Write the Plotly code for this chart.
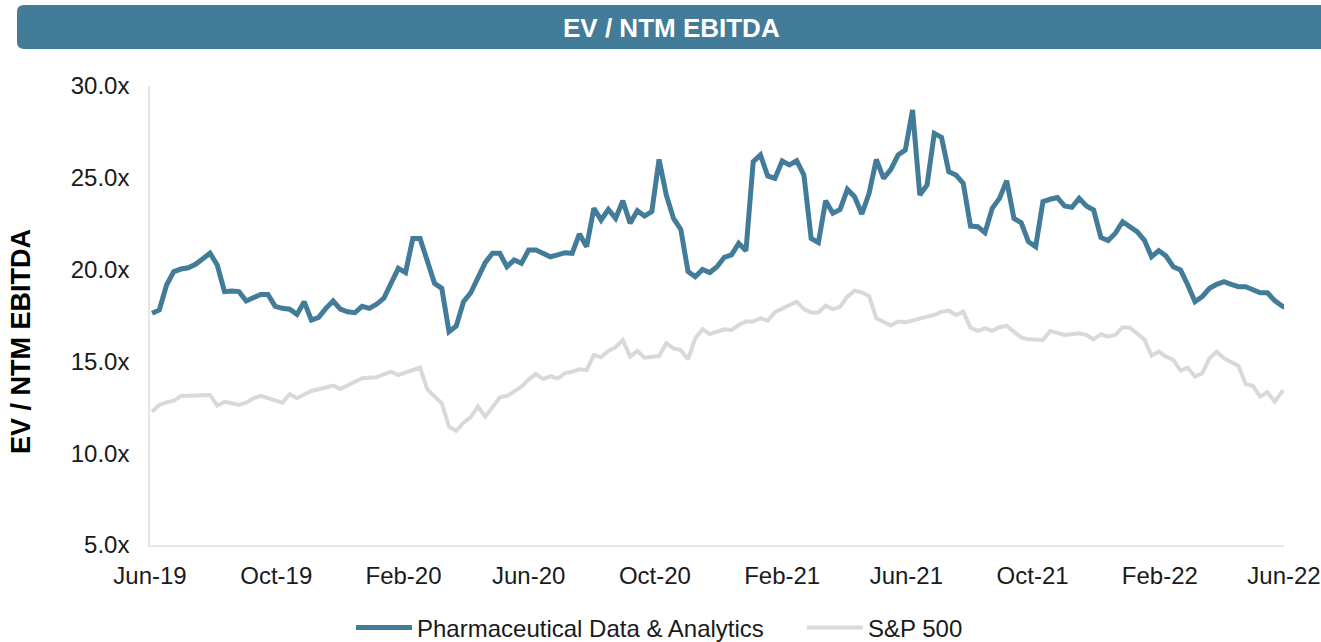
import pandas as pd
import plotly.graph_objects as go

# Weekly observations, Jun-2019 .. Jun-2022
dates = pd.date_range("2019-06-03", periods=158, freq="7D")

pharma = [
    17.62, 17.8, 19.16, 19.89, 20.03, 20.1, 20.29, 20.56, 20.89, 20.25,
    18.8, 18.83, 18.8, 18.29, 18.44, 18.65, 18.65, 18.0, 17.89, 17.84,
    17.56, 18.25, 17.25, 17.40, 17.89, 18.29, 17.85, 17.7, 17.65, 18.0,
    17.89, 18.11, 18.44, 19.25, 20.07, 19.84, 21.7, 21.7, 20.52, 19.25,
    18.98, 16.62, 16.93, 18.25, 18.74, 19.53, 20.38, 20.89, 20.89, 20.16,
    20.52, 20.34, 21.07, 21.07, 20.9, 20.7, 20.8, 20.92, 20.89, 21.94,
    21.25, 23.34, 22.7, 23.28, 22.79, 23.75, 22.52, 23.21, 22.92, 23.16,
    26.0, 24.06, 22.79, 22.19, 19.89, 19.61, 20.01, 19.84, 20.16, 20.67,
    20.8, 21.43, 21.03, 25.88, 26.24, 25.1, 24.97, 25.91, 25.7, 25.93,
    25.15, 21.7, 21.47, 23.75, 23.07, 23.28, 24.37, 23.97, 23.03, 24.16,
    26.0, 24.97, 25.46, 26.24, 26.51, 28.69, 24.06, 24.61, 27.42, 27.2,
    25.33, 25.15, 24.7, 22.37, 22.34, 22.01, 23.34, 23.88, 24.84, 22.79,
    22.55, 21.52, 21.25, 23.7, 23.83, 23.92, 23.46, 23.39, 23.88, 23.46,
    23.25, 21.75, 21.58, 21.98, 22.61, 22.34, 22.07, 21.61, 20.7, 21.03,
    20.74, 20.16, 19.98, 19.16, 18.25, 18.53, 18.98, 19.2, 19.34, 19.2,
    19.07, 19.07, 18.89, 18.74, 18.74, 18.31, 18.02, 17.84,
]

sp500 = [
    12.26, 12.63, 12.77, 12.86, 13.12, 13.13, 13.13, 13.12, 13.17, 12.59,
    12.8, 12.72, 12.63, 12.75, 12.99, 13.12, 12.99, 12.9, 12.75, 13.22,
    12.99, 13.2, 13.39, 13.48, 13.59, 13.68, 13.5, 13.71, 13.89, 14.08,
    14.11, 14.13, 14.3, 14.44, 14.26, 14.39, 14.53, 14.66, 13.48, 13.12,
    12.72, 11.44, 11.21, 11.66, 11.96, 12.54, 11.99, 12.5, 13.03, 13.12,
    13.35, 13.62, 14.02, 14.31, 14.04, 14.2, 14.08, 14.35, 14.44, 14.57,
    14.53, 15.35, 15.22, 15.57, 15.77, 16.17, 15.26, 15.57, 15.2, 15.26,
    15.29, 15.99, 15.71, 15.62, 15.11, 16.26, 16.75, 16.49, 16.62, 16.75,
    16.71, 16.98, 17.17, 17.17, 17.35, 17.22, 17.68, 17.89, 18.07, 18.25,
    17.85, 17.67, 17.67, 18.04, 17.85, 17.98, 18.53, 18.85, 18.76, 18.56,
    17.35, 17.13, 16.95, 17.17, 17.13, 17.22, 17.35, 17.44, 17.53, 17.71,
    17.77, 17.53, 17.71, 16.84, 16.66, 16.80, 16.67, 16.86, 16.93, 16.62,
    16.31, 16.2, 16.17, 16.17, 16.66, 16.53, 16.44, 16.48, 16.53, 16.44,
    16.2, 16.48, 16.35, 16.44, 16.86, 16.84, 16.53, 16.2, 15.31, 15.53,
    15.26, 15.08, 14.5, 14.66, 14.17, 14.35, 15.17, 15.53, 15.17, 14.98,
    14.75, 13.77, 13.66, 13.08, 13.32, 12.81, 13.35, 13.35,
]

series_names = ["Pharmaceutical Data & Analytics", "S&P 500"]
y_ticks = [5, 10, 15, 20, 25, 30]
y_tick_labels = ["5.0x", "10.0x", "15.0x", "20.0x", "25.0x", "30.0x"]
title_text = "EV / NTM EBITDA"
y_title = "EV / NTM EBITDA"

BLUE = "#437C99"
GRAY = "#D9D9D9"
FONT = "Arial, Liberation Sans, sans-serif"
TXT = "#1a1a1a"

W, H = 1321, 642
L, R, T, B = 150, 37, 86, 97
pw, ph = W - L - R, H - T - B

def px_x(px):
    return (px - L) / pw

def px_y(py):
    return (H - B - py) / ph

fig = go.Figure()
fig.add_trace(go.Scatter(x=dates, y=pharma, name=series_names[0], mode="lines",
                         line=dict(color=BLUE, width=5)))
fig.add_trace(go.Scatter(x=dates, y=sp500, name=series_names[1], mode="lines",
                         line=dict(color=GRAY, width=4)))

# Title banner (rounded rectangle)
x0, x1, y0, y1 = 17, 1340, 5, 49
rpx = 7
rx, ry = rpx / pw, rpx / ph
X0, X1, Y0, Y1 = px_x(x0), px_x(x1), px_y(y1), px_y(y0)
path = (f"M{X0 + rx},{Y1} L{X1 - rx},{Y1} Q{X1},{Y1} {X1},{Y1 - ry} "
        f"L{X1},{Y0 + ry} Q{X1},{Y0} {X1 - rx},{Y0} L{X0 + rx},{Y0} "
        f"Q{X0},{Y0} {X0},{Y0 + ry} L{X0},{Y1 - ry} Q{X0},{Y1} {X0 + rx},{Y1} Z")
fig.add_shape(type="path", path=path, xref="paper", yref="paper",
              fillcolor=BLUE, line=dict(width=0), layer="below")
fig.add_annotation(text=f"<b>{title_text}</b>", xref="paper", yref="paper",
                   x=px_x(671), y=px_y(28), showarrow=False,
                   font=dict(family=FONT, size=26, color="white"),
                   xanchor="center", yanchor="middle")

# Y axis title
fig.add_annotation(text=f"<b>{y_title}</b>", xref="paper", yref="paper",
                   x=px_x(21), y=px_y(342), showarrow=False, textangle=-90,
                   font=dict(family=FONT, size=27, color="#000000"),
                   xanchor="center", yanchor="middle")

fig.update_layout(
    width=W, height=H, autosize=False,
    margin=dict(l=L, r=R, t=T, b=B, pad=0, autoexpand=False),
    paper_bgcolor="white", plot_bgcolor="white",
    font=dict(family=FONT, size=24, color=TXT),
    showlegend=True,
    legend=dict(orientation="h", xref="container", yref="container",
                x=351 / W, y=(H - 628) / H, xanchor="left", yanchor="middle",
                font=dict(family=FONT, size=24, color=TXT),
                itemwidth=56, entrywidth=380, tracegroupgap=0,
                bgcolor="rgba(0,0,0,0)"),
    xaxis=dict(
        type="date",
        range=["2019-06-01", "2022-06-01"],
        tick0="2019-06-01", dtick="M4", tickformat="%b-%y",
        showgrid=False, zeroline=False, automargin=False,
        showline=True, linecolor="#E6E6E6", linewidth=1.5,
        ticks="", ticklabelstandoff=8,
        tickfont=dict(family=FONT, size=24, color=TXT),
    ),
    yaxis=dict(
        range=[5, 30],
        tickvals=y_ticks, ticktext=y_tick_labels,
        showgrid=False, zeroline=False, automargin=False,
        showline=True, linecolor="#E6E6E6", linewidth=1.5,
        ticks="", ticklabelstandoff=14,
        tickfont=dict(family=FONT, size=24, color=TXT),
    ),
)

post = (
    "document.documentElement.style.margin='0';"
    "document.body.style.margin='0';"
    "document.body.style.overflow='hidden';"
)

fig.write_html("out.html", post_script=post, config={"displayModeBar": False})
